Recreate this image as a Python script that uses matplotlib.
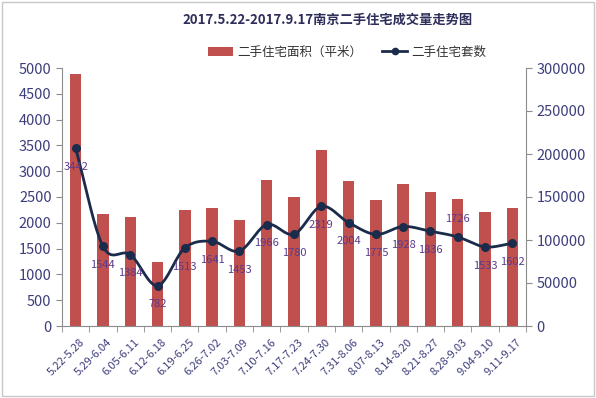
import numpy as np
import matplotlib
matplotlib.use("Agg")
import matplotlib.pyplot as plt
from matplotlib.patches import Rectangle, Patch
from matplotlib.lines import Line2D
from matplotlib.transforms import ScaledTranslation

plt.rcParams['font.family'] = ['Noto Sans CJK SC', 'DejaVu Sans']

categories = ["5.22-5.28", "5.29-6.04", "6.05-6.11", "6.12-6.18", "6.19-6.25", "6.26-7.02",
              "7.03-7.09", "7.10-7.16", "7.17-7.23", "7.24-7.30", "7.31-8.06", "8.07-8.13",
              "8.14-8.20", "8.21-8.27", "8.28-9.03", "9.04-9.10", "9.11-9.17"]
area = [292500, 130800, 126200, 74300, 134600, 137700, 122700, 170000, 150400,
        204600, 168700, 146600, 165200, 155900, 147800, 132700, 137300]
units = [3442, 1544, 1384, 782, 1513, 1641, 1453, 1966, 1780, 2319, 2004, 1775,
         1928, 1836, 1726, 1533, 1602]
left_ticks = list(range(0, 5001, 500))
right_ticks = list(range(0, 300001, 50000))

bar_color = "#c0504d"
line_color = "#1b2b4b"
tick_color = "#3e3e7c"
label_color = "#5a3a8c"
spine_color = "#8c8c8c"

fig = plt.figure(figsize=(5.96, 3.98), dpi=100)
fig.patches.append(Rectangle((0.004, 0.006), 0.992, 0.988, transform=fig.transFigure,
                             fill=False, edgecolor="#c8c8c8", linewidth=1.0))
ax = fig.add_axes([62/596, 1 - 326/398, (526-62)/596, (326-68)/398])
ax2 = ax.twinx()

x = np.arange(len(categories))
ax2.bar(x, area, width=0.42, color=bar_color, zorder=2)

# Catmull-Rom smoothing of the line for drawing
def catmull(xs, ys, n=20):
    px = np.concatenate([[2*xs[0]-xs[1]], xs, [2*xs[-1]-xs[-2]]])
    py = np.concatenate([[2*ys[0]-ys[1]], ys, [2*ys[-1]-ys[-2]]])
    outx, outy = [], []
    for i in range(1, len(px)-2):
        t = np.linspace(0, 1, n, endpoint=False)
        for arr, out in ((px, outx), (py, outy)):
            p0, p1, p2, p3 = arr[i-1], arr[i], arr[i+1], arr[i+2]
            out.extend(0.5*((2*p1) + (-p0+p2)*t + (2*p0-5*p1+4*p2-p3)*t**2 + (-p0+3*p1-3*p2+p3)*t**3))
    outx.append(xs[-1]); outy.append(ys[-1])
    return np.array(outx), np.array(outy)

sx, sy = catmull(x.astype(float), np.array(units, dtype=float))
ax.plot(sx, sy, color=line_color, linewidth=2.0, zorder=3)
ax.plot(x, units, 'o', color=line_color, markersize=5.5, zorder=4)

for i, v in enumerate(units):
    dy = -13.5
    if v == 1726:
        dy = 13
    ax.annotate(str(v), (i, v), xytext=(0, dy), textcoords="offset points",
                ha="center", va="center", fontsize=8, color=label_color, zorder=5)

ax.set_zorder(ax2.get_zorder() + 1)
ax.patch.set_visible(False)

ax.set_xlim(-0.5, len(categories) - 0.5)
ax.set_ylim(0, 5000)
ax2.set_ylim(0, 300000)
ax.set_yticks(left_ticks)
ax2.set_yticks(right_ticks)
ax.set_xticks(x)
ax.set_xticklabels(categories, rotation=45, ha="right", rotation_mode="anchor",
                   fontsize=8, color=tick_color)
ax.tick_params(axis='x', which='major', length=0, pad=8)
off = ScaledTranslation(4/100, 0, fig.dpi_scale_trans)
for lab in ax.get_xticklabels():
    lab.set_transform(lab.get_transform() + off)
ax.set_xticks(np.arange(-0.5, len(categories), 1), minor=True)
ax.tick_params(axis='x', which='minor', length=4, color=spine_color, direction='out')
ax.tick_params(axis='y', labelsize=10.5, labelcolor=tick_color, length=4, color=spine_color)
ax2.tick_params(axis='y', labelsize=10.5, labelcolor=tick_color, length=4, color=spine_color)

for a in (ax, ax2):
    a.spines['top'].set_visible(False)
    for s in ('left', 'right', 'bottom'):
        a.spines[s].set_color(spine_color)
ax.spines['right'].set_visible(False)
ax2.spines['left'].set_visible(False)
ax2.spines['bottom'].set_visible(False)

fig.text(328/596, 1 - 20/398, "2017.5.22-2017.9.17南京二手住宅成交量走势图", ha="center", va="center",
         fontsize=9.5, fontweight="bold", color="#2e2e5a")

handles = [Patch(facecolor=bar_color, edgecolor='none'),
           Line2D([0], [0], color=line_color, linewidth=2, marker='o', markersize=4.5)]
fig.legend(handles, ["二手住宅面积（平米）", "二手住宅套数"], loc="center",
           bbox_to_anchor=(347/596, 1 - 52/398), ncol=2, frameon=False, fontsize=9,
           handlelength=2.0, columnspacing=1.6, handletextpad=0.3,
           labelcolor="#333333")

fig.savefig("out.png", dpi=100)
